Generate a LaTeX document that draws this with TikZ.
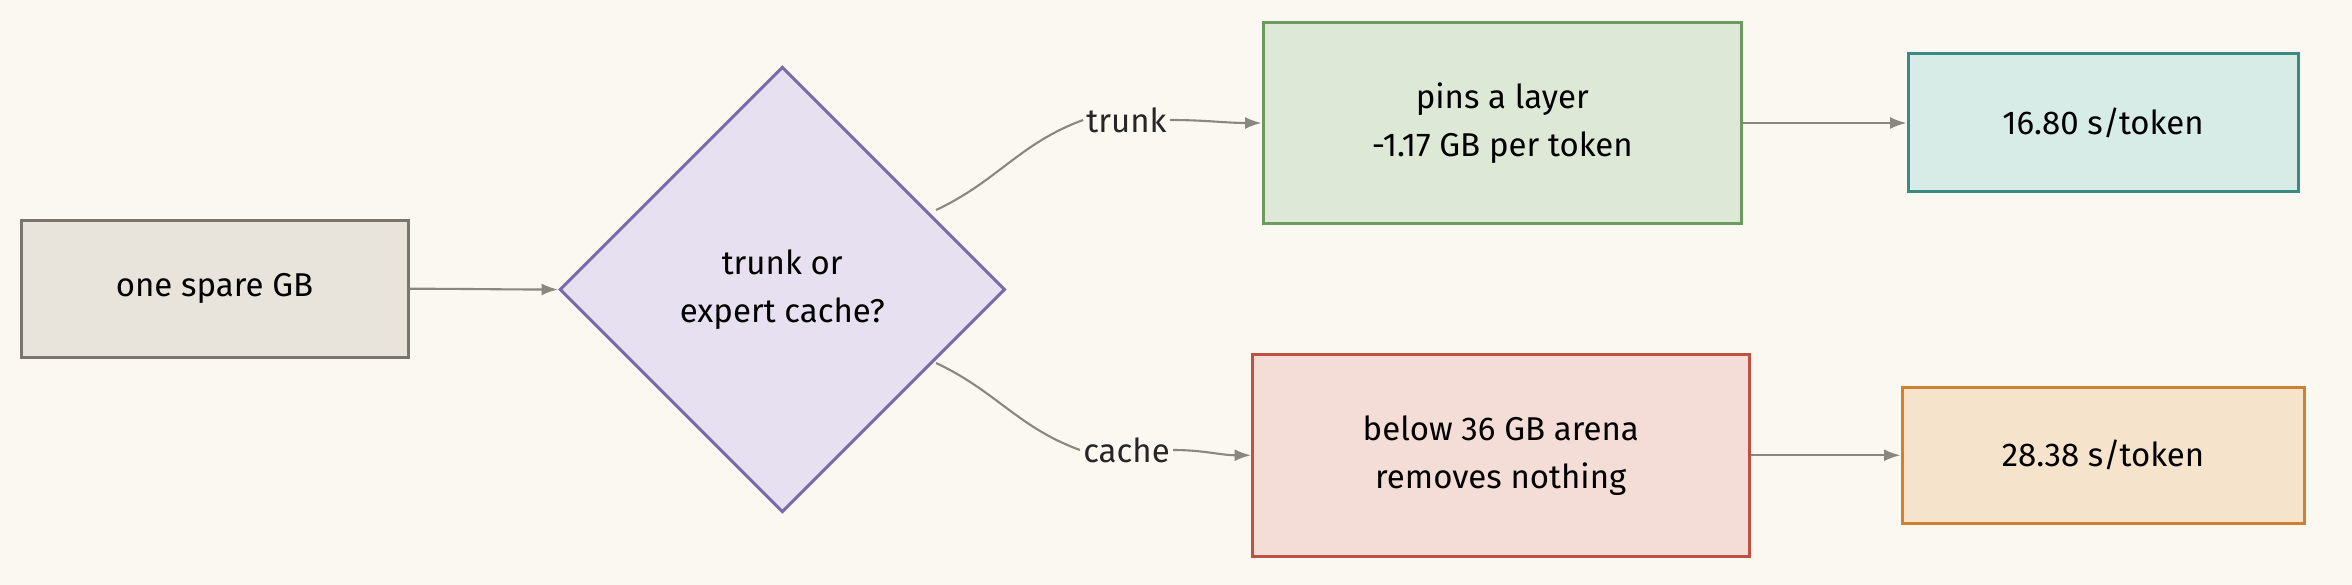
\documentclass[tikz,border=0pt]{standalone}
\usepackage{fontspec}
\setmainfont{Fira Sans}
\usetikzlibrary{shapes.geometric,arrows.meta}
\definecolor{bg}{HTML}{FBF8F1}
\definecolor{arr}{HTML}{8A8780}
\tikzset{x=1pt,y=-1pt,
 box/.style={draw, line width=2pt, font=\fontsize{22}{32}\selectfont, align=center, inner sep=0pt},
 con/.style={draw=arr, line width=1.4pt, -{Latex[length=11pt,width=8pt]}},
 lab/.style={font=\fontsize{22}{26}\selectfont, text=black!85, inner sep=2pt}}
\begin{document}
\begin{tikzpicture}
\fill[bg] (0,0) rectangle (1568,390);
\useasboundingbox (0,0) rectangle (1568,390);
\node[box, fill={rgb,255:red,232;green,228;blue,220}, draw={rgb,255:red,122;green,117;blue,108}, minimum width=258pt, minimum height=91pt] (a) at (143,192.5) {one spare GB};
\node[box, diamond, aspect=1, fill={rgb,255:red,230;green,224;blue,240}, draw={rgb,255:red,122;green,106;blue,168}, minimum width=297pt, minimum height=297pt] (d) at (521.5,193) {trunk or\\expert cache?};
\node[box, fill={rgb,255:red,221;green,233;blue,214}, draw={rgb,255:red,106;green,154;blue,94}, minimum width=319pt, minimum height=134pt] (g) at (1001.5,82) {pins a layer\\-1.17 GB per token};
\node[box, fill={rgb,255:red,215;green,235;blue,231}, draw={rgb,255:red,58;green,138;blue,132}, minimum width=260pt, minimum height=92pt] (t) at (1402,82) {16.80 s/token};
\node[box, fill={rgb,255:red,244;green,221;blue,214}, draw={rgb,255:red,192;green,80;blue,64}, minimum width=331pt, minimum height=135pt] (r) at (1000.5,303.5) {below 36 GB arena\\removes nothing};
\node[box, fill={rgb,255:red,246;green,227;blue,204}, draw={rgb,255:red,208;green,128;blue,48}, minimum width=268pt, minimum height=91pt] (o) at (1402,303.5) {28.38 s/token};
\node[lab] (lt) at (751,80) {trunk};
\node[lab] (lc) at (751,300) {cache};
\coordinate (d1) at (624,140);
\coordinate (d2) at (624,242);
\draw[con] (a.east) to[out=0,in=180] (d.west);
\draw[draw=arr,line width=1.4pt] (d1) to[out=25,in=200] (lt.west);
\draw[draw=arr,line width=1.4pt] (d2) to[out=-25,in=160] (lc.west);
\draw[con] (lt.east) to[out=0,in=180] (g.west);
\draw[con] (lc.east) to[out=0,in=180] (r.west);
\draw[con] (g.east) -- (t.west);
\draw[con] (r.east) -- (o.west);
\end{tikzpicture}
\end{document}
